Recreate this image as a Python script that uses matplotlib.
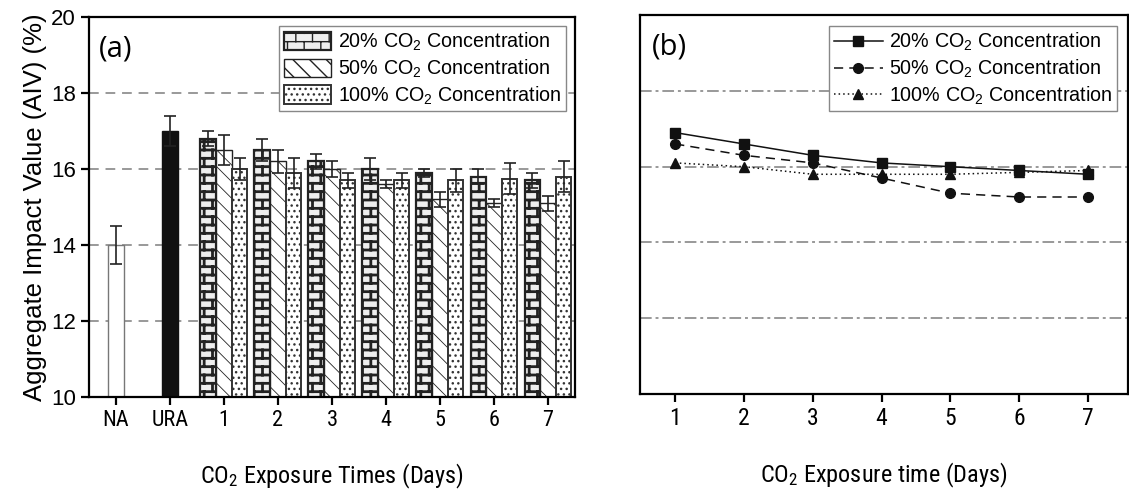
import numpy as np
import matplotlib
matplotlib.use("Agg")
import matplotlib.pyplot as plt
from matplotlib import hatch as mhatch
from matplotlib import font_manager as fm
from matplotlib.path import Path

# ---- data ----
ctrl_labels = ["NA", "URA"]
ctrl_vals = [14.0, 17.0]
ctrl_err = [0.5, 0.4]

days = [1, 2, 3, 4, 5, 6, 7]
conc_labels = ["20% CO$_2$ Concentration", "50% CO$_2$ Concentration",
               "100% CO$_2$ Concentration"]
aiv_20 = [16.8, 16.5, 16.2, 16.0, 15.9, 15.8, 15.7]
aiv_50 = [16.5, 16.2, 16.0, 15.6, 15.2, 15.1, 15.1]
aiv_100 = [16.0, 15.9, 15.7, 15.7, 15.7, 15.75, 15.8]
err_20 = [0.2, 0.3, 0.2, 0.3, 0.1, 0.2, 0.2]
err_50 = [0.4, 0.3, 0.2, 0.1, 0.2, 0.1, 0.2]
err_100 = [0.3, 0.4, 0.2, 0.2, 0.3, 0.4, 0.4]

line_20 = [16.9, 16.6, 16.3, 16.1, 16.0, 15.9, 15.8]
line_50 = [16.6, 16.3, 16.1, 15.7, 15.3, 15.2, 15.2]
line_100 = [16.1, 16.0, 15.8, 15.8, 15.8, 15.85, 15.9]


# brick hatch, bound to '*' (stars are not used here)
class BrickHatch(mhatch.HatchPatternBase):
    def __init__(self, hatch, density):
        self.n = hatch.count("*") * density * 2
        if self.n:
            self.num_vertices = (self.n + 1) * 2 + self.n * (self.n // 2) * 2
        else:
            self.num_vertices = 0

    def set_vertices_and_codes(self, vertices, codes):
        n = self.n
        h = 1.0 / n
        w = 2.0 * h
        k = 0
        for i in range(n + 1):
            vertices[k] = (0.0, i * h)
            vertices[k + 1] = (1.0, i * h)
            k += 2
        for i in range(n):
            off = 0.5 * w * (i % 2)
            for j in range(n // 2):
                xx = j * w + off + 0.25 * w
                vertices[k] = (xx, i * h)
                vertices[k + 1] = (xx, (i + 1) * h)
                k += 2
        codes[0::2] = Path.MOVETO
        codes[1::2] = Path.LINETO


mhatch._hatch_types = [t for t in mhatch._hatch_types if t is not mhatch.Stars]
mhatch._hatch_types.append(BrickHatch)


def pick_font(names):
    for nm in names:
        try:
            fm.findfont(fm.FontProperties(family=nm), fallback_to_default=False)
            return nm
        except ValueError:
            pass
    return "Liberation Sans"


NARROW = pick_font(["Liberation Sans Narrow", "Roboto Condensed"])

plt.rcParams["font.family"] = ["Liberation Sans", "DejaVu Sans"]
plt.rcParams["mathtext.default"] = "regular"
plt.rcParams["axes.linewidth"] = 1.6

fig = plt.figure(figsize=(11.29, 4.9), dpi=100)
fig.patch.set_facecolor("white")
ax1 = fig.add_axes([0.0788, 0.190, 0.4305, 0.775])
ax2 = fig.add_axes([0.567, 0.196, 0.432, 0.773])

# ---- (a) bars ----
x = np.arange(len(days)) + 2
w = 0.29
for yv in [12, 14, 16, 18]:
    ax1.axhline(yv, color="#999999", lw=1.4, ls=(0, (5, 3.5)), zorder=0)

ekw = dict(ecolor="#222222", elinewidth=1.2, capsize=4.5, capthick=1.2)
ax1.bar(0, ctrl_vals[0], w, yerr=ctrl_err[0], color="white",
        edgecolor="#777777", lw=1.0, error_kw=ekw, zorder=2)
ax1.bar(1, ctrl_vals[1], w, yerr=ctrl_err[1], color="#111111",
        edgecolor="#111111", lw=1.0, error_kw=ekw, zorder=2)

with plt.rc_context({"hatch.linewidth": 2.0, "hatch.color": "#222222"}):
    ax1.bar(x - w, aiv_20, w, yerr=err_20, color="#eeeeee",
            edgecolor="#222222", lw=1.6, hatch="*",
            error_kw=ekw, zorder=2, label=conc_labels[0])
with plt.rc_context({"hatch.linewidth": 0.6, "hatch.color": "#444444"}):
    ax1.bar(x, aiv_50, w, yerr=err_50, color="white",
            edgecolor="#222222", lw=1.0, hatch="\\\\",
            error_kw=ekw, zorder=2, label=conc_labels[1])
with plt.rc_context({"hatch.linewidth": 1.0, "hatch.color": "#333333"}):
    ax1.bar(x + w, aiv_100, w, yerr=err_100, color="white",
            edgecolor="#333333", lw=1.4, hatch="...",
            error_kw=ekw, zorder=2, label=conc_labels[2])

ax1.set_xlim(-0.5, 8.5)
ax1.set_ylim(10, 20)
ax1.set_xticks(list(range(9)))
ax1.set_xticklabels(ctrl_labels + [str(d) for d in days], family=NARROW,
                    fontsize=17)
ax1.set_yticks([10, 12, 14, 16, 18, 20])
ax1.tick_params(axis="both", direction="out", length=6, width=1.6,
                labelsize=16)
ax1.set_ylabel("Aggregate Impact Value (AIV) (%)", fontsize=18.5, labelpad=3)
ax1.set_xlabel("CO$_2$ Exposure Times (Days)", fontsize=17.5, labelpad=22,
               family=NARROW)
ax1.text(0.02, 0.955, "(a)", transform=ax1.transAxes, fontsize=21,
         family="Open Sans", va="top", ha="left")
leg1 = ax1.legend(loc="upper right", fontsize=14.2, handlelength=2.4,
                  handleheight=1.05, fancybox=False, edgecolor="#888888",
                  framealpha=1, borderpad=0.25, labelspacing=0.22,
                  handletextpad=0.35, borderaxespad=0.45)
leg1.get_frame().set_linewidth(1.0)

# ---- (b) lines ----
for yv in [12, 14, 16, 18]:
    ax2.axhline(yv, color="#999999", lw=1.4, ls=(0, (6, 2, 1.5, 2)), zorder=0)
ax2.plot(days, line_20, color="#111111", lw=1.1, ls="-", marker="s", ms=6.5,
         label=conc_labels[0])
ax2.plot(days, line_50, color="#111111", lw=1.1, ls=(0, (6, 4)), marker="o",
         ms=7, label=conc_labels[1])
ax2.plot(days, line_100, color="#111111", lw=1.1, ls=(0, (1, 2)), marker="^",
         ms=7, label=conc_labels[2])
ax2.set_xlim(0.49, 7.58)
ax2.set_ylim(10, 20)
ax2.set_xticks(days)
ax2.set_xticklabels([str(d) for d in days], family=NARROW, fontsize=17)
ax2.set_yticks([])
ax2.tick_params(axis="x", direction="out", length=6, width=1.6)
ax2.set_xlabel("CO$_2$ Exposure time (Days)", fontsize=17.5, labelpad=22,
               family=NARROW)
ax2.text(0.025, 0.955, "(b)", transform=ax2.transAxes, fontsize=21,
         family="Open Sans", va="top", ha="left")
leg2 = ax2.legend(loc="upper right", fontsize=14.2, handlelength=2.5,
                  fancybox=False, edgecolor="#888888", framealpha=1,
                  borderpad=0.25, labelspacing=0.22, handletextpad=0.3,
                  borderaxespad=0.55)
leg2.get_frame().set_linewidth(1.0)

fig.savefig("out.png", dpi=100)
